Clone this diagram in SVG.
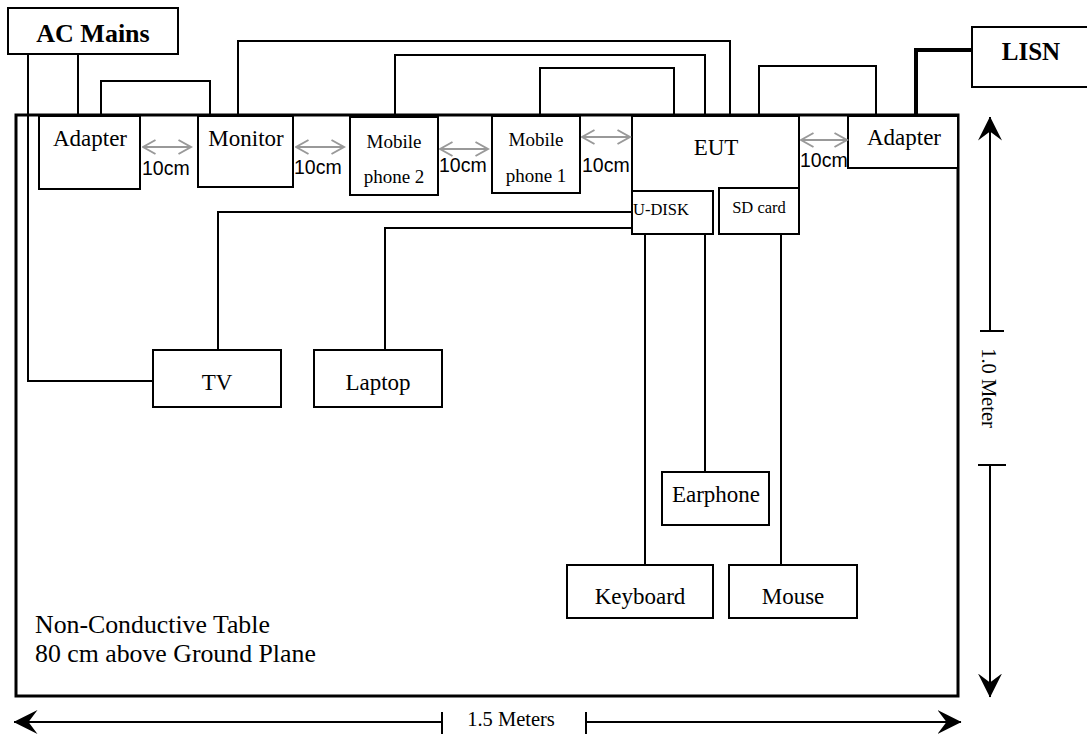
<svg xmlns="http://www.w3.org/2000/svg" width="1087" height="738" viewBox="0 0 1087 738">
<style>
.box{fill:#fff;stroke:#000;stroke-width:2}
.lbl{font-family:"Liberation Serif","Times New Roman",serif;font-size:23px;fill:#000;text-anchor:middle}
.small{font-size:19px}
.tiny{font-size:16.5px}
.bold{font-weight:bold;font-size:26px}
.cm{font-family:"Liberation Sans",Arial,sans-serif;font-size:19.5px;fill:#000}
.wire{fill:none;stroke:#000;stroke-width:2}
.gap{fill:none;stroke:#999;stroke-width:2;marker-start:url(#ga);marker-end:url(#ga)}
.dim{fill:none;stroke:#000;stroke-width:2}
</style>
<defs>
<marker id="ga" markerUnits="userSpaceOnUse" viewBox="0 0 15 16" refX="13.5" refY="8" markerWidth="15" markerHeight="16" orient="auto-start-reverse">
<path d="M1,1 L13.5,8 L1,15" fill="none" stroke="#999" stroke-width="2"/>
</marker>
<marker id="bk" markerUnits="userSpaceOnUse" viewBox="0 0 24 26" refX="23.5" refY="13" markerWidth="24" markerHeight="26" orient="auto">
<path d="M0,1 L24,13 L0,25 L9,13 Z" fill="#000"/>
</marker>
</defs>

<rect id="table" x="16" y="115" width="942" height="581" fill="none" stroke="#000" stroke-width="3"/>

<g id="connectors">
<path class="wire" d="M28,54 V381 H153"/>
<path class="wire" d="M78,54 V116"/>
<path class="wire" d="M101,116 V81 H210 V116"/>
<path class="wire" d="M238,116 V41 H730 V116"/>
<path class="wire" d="M395,117 V55 H705 V116"/>
<path class="wire" d="M540,116 V68 H674 V116"/>
<path class="wire" d="M759,116 V66 H876 V116"/>
<path fill="none" stroke="#000" stroke-width="4" d="M972,50 H916 V116"/>
<path class="wire" d="M632,212 H218 V350"/>
<path class="wire" d="M632,228 H385 V350"/>
<path class="wire" d="M645,234 V565"/>
<path class="wire" d="M705,234 V472"/>
<path class="wire" d="M781,234 V565"/>
</g>

<g id="ac-mains"><rect class="box" x="8" y="8" width="170" height="46"/><text class="lbl bold" x="93" y="42">AC Mains</text></g>
<g id="lisn"><rect class="box" x="972" y="27" width="117" height="60"/><text class="lbl bold" x="1031" y="60" style="font-size:25px">LISN</text></g>
<g id="adapter-left"><rect class="box" x="39" y="116" width="101" height="73"/><text class="lbl" x="90" y="146">Adapter</text></g>
<g id="monitor"><rect class="box" x="198" y="116" width="95" height="71"/><text class="lbl" x="246" y="146">Monitor</text></g>
<g id="mobile-phone-2"><rect class="box" x="350" y="117" width="88" height="78"/><text class="lbl small" x="394" y="148">Mobile</text><text class="lbl small" x="394" y="183">phone 2</text></g>
<g id="mobile-phone-1"><rect class="box" x="492" y="116" width="88" height="77"/><text class="lbl small" x="536" y="146">Mobile</text><text class="lbl small" x="536" y="182">phone 1</text></g>
<g id="eut"><path class="box" d="M632,191 V116 H799 V188"/><text class="lbl" x="716" y="155">EUT</text></g>
<g id="u-disk"><rect class="box" x="632" y="191" width="81" height="43"/><text class="lbl tiny" x="661" y="215">U-DISK</text></g>
<g id="sd-card"><rect class="box" x="719" y="188" width="80" height="46"/><text class="lbl tiny" x="759" y="213">SD card</text></g>
<g id="adapter-right"><rect class="box" x="848" y="116" width="110" height="52"/><text class="lbl" x="904" y="145">Adapter</text></g>
<g id="tv"><rect class="box" x="153" y="350" width="128" height="57"/><text class="lbl" x="217" y="390">TV</text></g>
<g id="laptop"><rect class="box" x="314" y="350" width="128" height="57"/><text class="lbl" x="378" y="390">Laptop</text></g>
<g id="earphone"><rect class="box" x="662" y="472" width="107" height="53"/><text class="lbl" x="716" y="502">Earphone</text></g>
<g id="keyboard"><rect class="box" x="567" y="565" width="146" height="53"/><text class="lbl" x="640" y="604">Keyboard</text></g>
<g id="mouse"><rect class="box" x="729" y="565" width="128" height="53"/><text class="lbl" x="793" y="604">Mouse</text></g>

<g id="spacing">
<line class="gap" x1="143" y1="147" x2="191" y2="147"/>
<text class="cm" x="142" y="175">10cm</text>
<line class="gap" x1="296" y1="147" x2="344" y2="147"/>
<text class="cm" x="294" y="174">10cm</text>
<line class="gap" x1="440" y1="149" x2="488" y2="149"/>
<text class="cm" x="439" y="172">10cm</text>
<line class="gap" x1="582" y1="137" x2="630" y2="137"/>
<text class="cm" x="582" y="172">10cm</text>
<line class="gap" x1="801" y1="140" x2="847" y2="140"/>
<text class="cm" x="800" y="167">10cm</text>
</g>

<g id="table-label">
<text class="lbl" x="35" y="633" style="text-anchor:start;font-size:25.8px">Non-Conductive Table</text>
<text class="lbl" x="35" y="662" style="text-anchor:start;font-size:25.8px">80 cm above Ground Plane</text>
</g>

<g id="dimensions">
<line class="dim" x1="442" y1="722" x2="14" y2="722" marker-end="url(#bk)"/>
<line class="dim" x1="442" y1="712" x2="442" y2="734"/>
<line class="dim" x1="586" y1="722" x2="961" y2="722" marker-end="url(#bk)"/>
<line class="dim" x1="586" y1="712" x2="586" y2="734"/>
<text class="lbl" x="511" y="726" style="font-size:20.5px">1.5 Meters</text>
<line class="dim" x1="990" y1="331" x2="990" y2="117" marker-end="url(#bk)"/>
<line class="dim" x1="980" y1="331" x2="1004" y2="331"/>
<line class="dim" x1="990" y1="465" x2="990" y2="697" marker-end="url(#bk)"/>
<line class="dim" x1="978" y1="465" x2="1006" y2="465"/>
<text class="lbl" x="982" y="388" transform="rotate(90 982 388)" style="font-size:20.5px">1.0 Meter</text>
</g>
</svg>
